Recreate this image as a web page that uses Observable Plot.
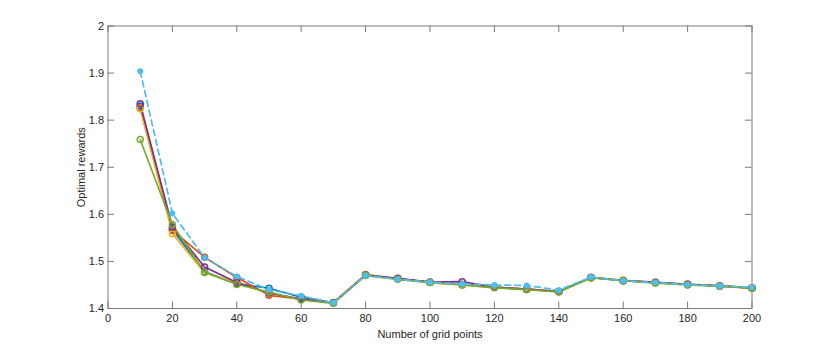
<!DOCTYPE html>
<html>
<head>
<meta charset="utf-8">
<script src="https://cdn.jsdelivr.net/npm/d3@7"></script>
<script src="https://cdn.jsdelivr.net/npm/@observablehq/plot@0.6"></script>
<style>
  html, body { margin: 0; padding: 0; background: #fff; }
  #chart { width: 830px; height: 346px; }
</style>
</head>
<body>
<div id="chart"></div>
<script>
const gridPoints = [10, 20, 30, 40, 50, 60, 70, 80, 90, 100, 110, 120, 130, 140, 150, 160, 170, 180, 190, 200];
const seriesBlue   = [1.830, 1.568, 1.478, 1.453, 1.443, 1.424, 1.412, 1.471, 1.463, 1.456, 1.451, 1.445, 1.441, 1.436, 1.466, 1.459, 1.455, 1.451, 1.448, 1.444];
const seriesOrange = [1.826, 1.566, 1.509, 1.466, 1.428, 1.420, 1.413, 1.472, 1.463, 1.456, 1.451, 1.445, 1.441, 1.436, 1.466, 1.460, 1.455, 1.452, 1.448, 1.444];
const seriesYellow = [1.824, 1.559, 1.476, 1.455, 1.432, 1.420, 1.412, 1.472, 1.463, 1.455, 1.450, 1.445, 1.441, 1.436, 1.466, 1.460, 1.455, 1.451, 1.448, 1.444];
const seriesPurple = [1.835, 1.573, 1.488, 1.455, 1.433, 1.420, 1.412, 1.471, 1.464, 1.456, 1.457, 1.445, 1.441, 1.436, 1.466, 1.459, 1.456, 1.451, 1.448, 1.443];
const seriesGreen  = [1.759, 1.578, 1.477, 1.451, 1.435, 1.418, 1.411, 1.470, 1.462, 1.455, 1.450, 1.444, 1.440, 1.435, 1.465, 1.459, 1.454, 1.450, 1.447, 1.443];
const seriesCyan   = [1.904, 1.602, 1.508, 1.468, 1.440, 1.427, 1.412, 1.470, 1.462, 1.456, 1.452, 1.450, 1.449, 1.439, 1.467, 1.459, 1.455, 1.451, 1.448, 1.445];
const seriesNames  = ["s1", "s2", "s3", "s4", "s5", "s6"];
const seriesColors = ["#0072BD", "#D95319", "#EDB120", "#7E2F8E", "#77AC30", "#4DBEEE"];
const xTicks = [0, 20, 40, 60, 80, 100, 120, 140, 160, 180, 200];
const yTicks = [1.4, 1.5, 1.6, 1.7, 1.8, 1.9, 2];

const allSeries = [seriesBlue, seriesOrange, seriesYellow, seriesPurple, seriesGreen, seriesCyan];
const rows = [];
allSeries.forEach((vals, si) => vals.forEach((v, i) => rows.push({x: gridPoints[i], y: v, s: seriesNames[si]})));
const solidRows = rows.filter(d => d.s !== "s6");
const cyanRows = rows.filter(d => d.s === "s6");

const W = 830, H = 346, mL = 107.5, mR = 78.5, mT = 25.5, mB = 38;
const innerW = W - mL - mR, innerH = H - mT - mB, tl = 6.5;
const axisCol = "#7a7a7a";

const chart = Plot.plot({
  width: W, height: H,
  marginLeft: mL, marginRight: mR, marginTop: mT, marginBottom: mB,
  style: {fontFamily: "'Liberation Sans', Arial, sans-serif", fontSize: "11px", color: "#262626", background: "#fff"},
  x: {domain: [0, 200]},
  y: {domain: [1.4, 2]},
  color: {domain: seriesNames, range: seriesColors},
  marks: [
    Plot.frame({stroke: axisCol, strokeWidth: 1}),
    Plot.tickX(xTicks, {x: d => d, stroke: axisCol, insetTop: innerH - tl}),
    Plot.tickX(xTicks, {x: d => d, stroke: axisCol, insetBottom: innerH - tl}),
    Plot.tickY(yTicks, {y: d => d, stroke: axisCol, insetRight: innerW - tl}),
    Plot.tickY(yTicks, {y: d => d, stroke: axisCol, insetLeft: innerW - tl}),
    Plot.axisX({ticks: xTicks, tickSize: 0, tickPadding: 6, label: "Number of grid points", labelAnchor: "center", labelArrow: "none", labelOffset: 29}),
    Plot.axisY({ticks: yTicks, tickSize: 0, tickPadding: 4, tickFormat: d => String(d), label: "Optimal rewards", labelAnchor: "center", labelArrow: "none", labelOffset: 31}),
    Plot.line(solidRows, {x: "x", y: "y", z: "s", stroke: "s", strokeWidth: 1.7}),
    Plot.dot(solidRows, {x: "x", y: "y", stroke: "s", r: 3, strokeWidth: 1.5, fill: "none"}),
    Plot.line(cyanRows, {x: "x", y: "y", stroke: "s", strokeWidth: 1.7, strokeDasharray: "6,4"}),
    Plot.dot(cyanRows, {x: "x", y: "y", fill: "s", r: 3, stroke: "none"})
  ]
});
document.getElementById("chart").appendChild(chart);
</script>
</body>
</html>
